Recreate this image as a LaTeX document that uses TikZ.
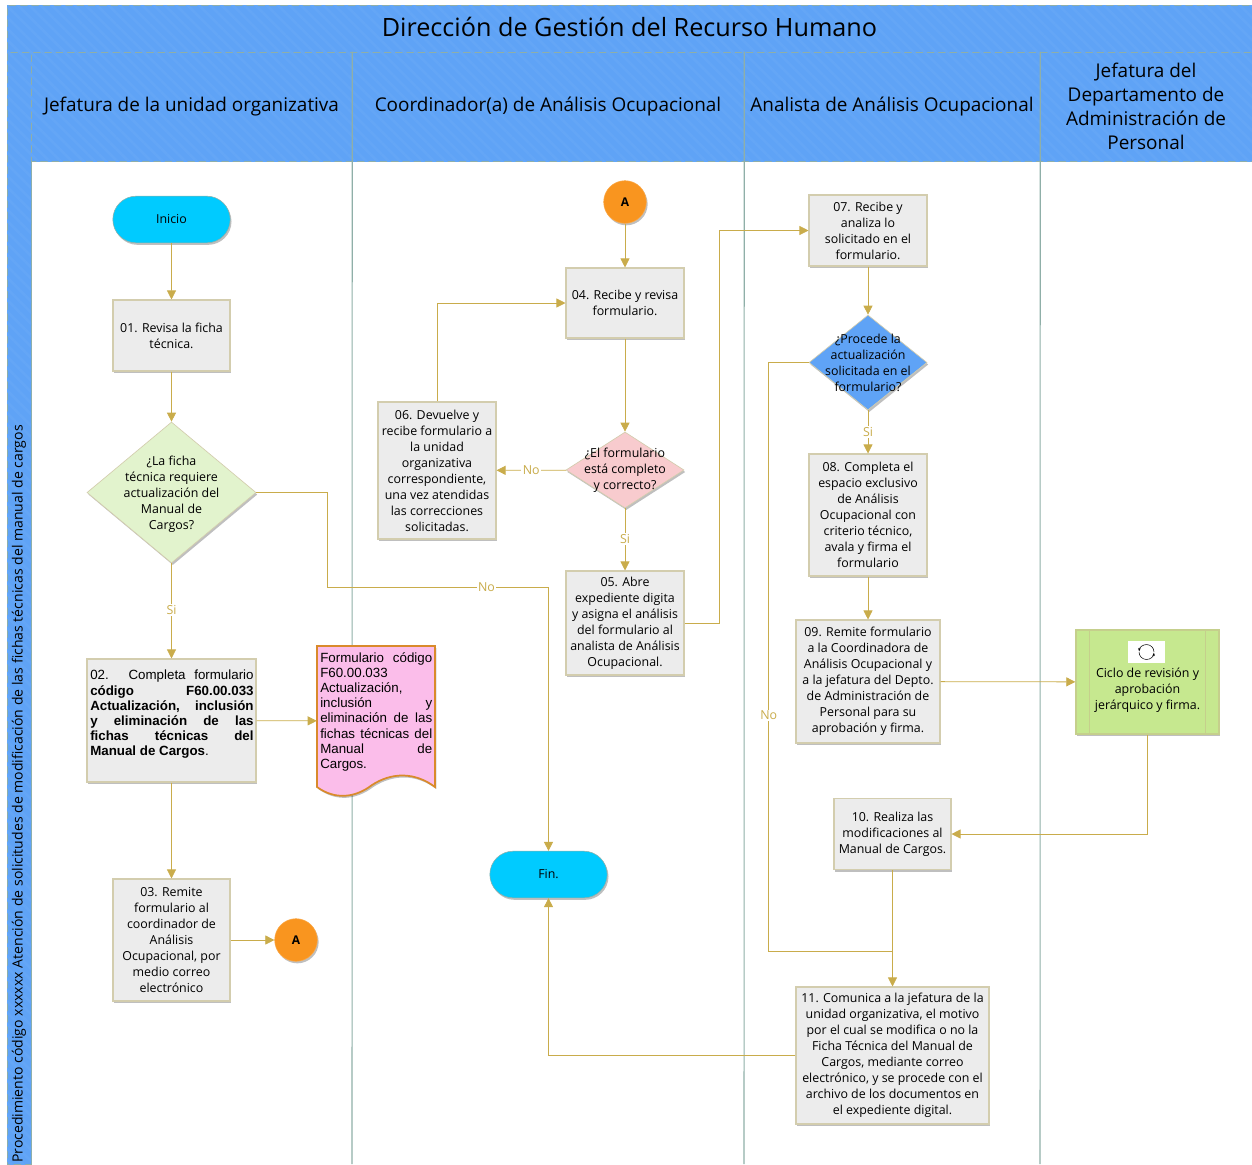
\documentclass[tikz,border=0pt]{standalone}
\usepackage{fontspec}
\setmainfont{Open Sans}
\newfontfamily\arialfont{Liberation Sans}
\usetikzlibrary{arrows.meta, shapes.geometric, shapes.misc, shadows, patterns.meta}

\definecolor{lanefill}{HTML}{5FA3F6}
\definecolor{laneline}{HTML}{8FAFA8}
\definecolor{flowline}{HTML}{C9AC4B}
\definecolor{boxfill}{HTML}{ECECEC}
\definecolor{boxline}{HTML}{D3CDAE}
\definecolor{startfill}{HTML}{00CBFF}
\definecolor{connfill}{HTML}{F9951F}
\definecolor{askgreen}{HTML}{E2F3CD}
\definecolor{askpink}{HTML}{F8CBCE}
\definecolor{docfill}{HTML}{FBBDEA}
\definecolor{docline}{HTML}{D98A2B}
\definecolor{ciclofill}{HTML}{C6E88F}
\definecolor{cicloline}{HTML}{C5CF8C}

\newcommand{\jline}[2]{\leavevmode\hbox to #1{\spaceskip=0pt\xspaceskip=0pt #2}\par}

\tikzset{
	hatch/.style = {postaction = {pattern = {Lines[angle = -45, distance = 6pt, line width = 2pt]}, pattern color = #1!97!white}},
	lanehead/.style = {draw = laneline, fill = lanefill, hatch = lanefill, inner sep = 0, align = center, font = \fontsize{14.2}{18}\selectfont},
	flowshadow/.style = {drop shadow = {shadow xshift = 1pt, shadow yshift = -1.5pt, fill = black, opacity = 0.25}},
	taskbox/.style = {draw = boxline, line width = 0.8pt, fill = boxfill, flowshadow, inner sep = 0, align = center, font = \fontsize{9.3}{12}\selectfont},
	startend/.style = {rounded rectangle, draw = laneline, fill = startfill, flowshadow, minimum width = 88pt, minimum height = 35pt, inner sep = 0, font = \fontsize{9.3}{12}\selectfont},
	decision/.style = {diamond, draw = boxline, line width = 0.5pt, flowshadow, inner sep = 0},
	decisiontext/.style = {align = center, inner sep = 0, font = \fontsize{9.3}{12}\selectfont},
	connector/.style = {circle, draw = connfill!80!white, fill = connfill, flowshadow, minimum size = 32pt, inner sep = 0, font = \fontsize{9}{12}\selectfont\bfseries},
	flow/.style = {draw = flowline, line width = 0.6pt, -{Triangle[width = 6.8pt, length = 6.8pt]}},
	flowplain/.style = {draw = flowline, line width = 0.6pt},
	answer/.style = {fill = white, inner sep = 1pt, text = flowline, font = \fontsize{9.3}{12}\selectfont}
}

\begin{document}
\begin{tikzpicture}[x = 0.75pt, y = -0.75pt]
	\useasboundingbox (0,0) rectangle (1252,1164);

	% carriles
	\begin{scope}
		\node [lanehead, minimum width = 933.75pt, minimum height = 35.25pt, text depth = 2.5pt, font = \fontsize{18.9}{22}\selectfont] (title) at (629.5,28.5) {Dirección de Gestión del Recurso Humano};
		\node [lanehead, minimum width = 18pt, minimum height = 834pt] (strip) at (19,608) {};
		\node [lanehead, minimum width = 240.75pt, minimum height = 81.75pt] (lane1) at (191.5,106.5) {Jefatura de la unidad organizativa};
		\node [lanehead, minimum width = 294pt, minimum height = 81.75pt] (lane2) at (548,106.5) {Coordinador(a) de Análisis Ocupacional};
		\node [lanehead, minimum width = 222pt, minimum height = 81.75pt] (lane3) at (892,106.5) {Analista de Análisis Ocupacional};
		\node [lanehead, minimum width = 159pt, minimum height = 81.75pt] (lane4) at (1146,106.5) {Jefatura del\\Departamento de\\Administración de\\Personal};
		\node [rotate = 90, anchor = east, inner sep = 0, font = \fontsize{10.55}{12}\selectfont] (striptext) at (19,425) {Procedimiento código xxxxxx Atención de solicitudes de modificación de las fichas técnicas del manual de cargos};

		\coordinate (end1) at (352,1164);
		\coordinate (end2) at (744,1164);
		\coordinate (end3) at (1040,1164);
		\draw [laneline, line width = 0.8pt] (lane1.north east) -- (end1);
		\draw [laneline, line width = 0.8pt] (lane2.north east) -- (end2);
		\draw [laneline, line width = 0.8pt] (lane3.north east) -- (end3);
	\end{scope}

	% carril 1
	\node [startend] (inicio) at (171.5,219.5) {Inicio};
	\node [taskbox, minimum width = 87.75pt, minimum height = 53.25pt] (b01) at (171.5,335.5) {01. Revisa la ficha\\técnica.};
	\node [decision, fill = askgreen, minimum width = 126.75pt, minimum height = 105.75pt] (d1) at (171.5,492.5) {};
	\node [decisiontext] (d1text) at ([yshift = -1pt]d1) {¿La ficha\\técnica requiere\\actualización del\\Manual de\\Cargos?};
	\node [taskbox, minimum width = 126.75pt, minimum height = 92.25pt] (b02) at (171.5,720.5) {};
	\node [anchor = north west, inner sep = 0, text width = 122.5pt, font = \arialfont\fontsize{10}{11.4}\selectfont, align = left] (b02text) at (90,670) {\jline{122.5pt}{02. Completa formulario}\jline{122.5pt}{\bfseries código \hfill F60.00.033}\jline{122.5pt}{\bfseries Actualización, inclusión}\jline{122.5pt}{\bfseries y eliminación de las}\jline{122.5pt}{\bfseries fichas técnicas del}\jline{122.5pt}{\bfseries Manual de Cargos\mdseries.\hfill}};
	\node [taskbox, minimum width = 87.75pt, minimum height = 91.5pt] (b03) at (171.5,940) {03. Remite\\formulario al\\coordinador de\\Análisis\\Ocupacional, por\\medio correo\\electrónico};
	\node [connector] (a1) at (296,940) {A};

	% formulario
	\coordinate (docnw) at (317,646);
	\coordinate (docne) at (435,646);
	\coordinate (docsw) at (317,787);
	\coordinate (docse) at (435,787);
	\draw [draw = docline, line width = 1.3pt, fill = docfill, flowshadow] (docnw) -- (docne) -- (docse) .. controls (415,772) and (392,772) .. (372,785) .. controls (355,798) and (335,800) .. (docsw) -- cycle;
	\node [minimum width = 88.5pt, minimum height = 114pt, inner sep = 0] (doc) at (376,721) {};
	\node [anchor = north west, inner sep = 0, text width = 84pt, font = \arialfont\fontsize{10}{11.4}\selectfont, align = left] (doctext) at (320,652) {\jline{84pt}{Formulario \hfill código}\jline{84pt}{F60.00.033\hfill}\jline{84pt}{Actualización,\hfill}\jline{84pt}{inclusión \hfill y}\jline{84pt}{eliminación de las}\jline{84pt}{fichas técnicas del}\jline{84pt}{Manual \hfill de}\jline{84pt}{Cargos.\hfill}};

	% carril 2
	\node [connector] (a2) at (625,202) {A};
	\node [taskbox, minimum width = 88.5pt, minimum height = 52.5pt] (b04) at (625,303) {04. Recibe y revisa\\formulario.};
	\node [decision, fill = askpink, minimum width = 88.5pt, minimum height = 57pt] (d2) at (625,470) {};
	\node [decisiontext] (d2text) at (d2) {¿El formulario\\está completo\\y correcto?};
	\node [taskbox, minimum width = 88.5pt, minimum height = 102.75pt] (b06) at (437,470.5) {06. Devuelve y\\recibe formulario a\\la unidad\\organizativa\\correspondiente,\\una vez atendidas\\las correcciones\\solicitadas.};
	\node [taskbox, minimum width = 88.5pt, minimum height = 78pt] (b05) at (625,623) {05. Abre\\expediente digita\\y asigna el análisis\\del formulario al\\analista de Análisis\\Ocupacional.};
	\node [startend] (fin) at (548.5,874.5) {Fin.};

	% carril 3
	\node [taskbox, minimum width = 88.5pt, minimum height = 53.25pt] (b07) at (868,230.5) {07. Recibe y\\analiza lo\\solicitado en el\\formulario.};
	\node [decision, fill = lanefill, minimum width = 88.5pt, minimum height = 71.25pt] (d3) at (868,362.5) {};
	\node [decisiontext] (d3text) at (d3) {¿Procede la\\actualización\\solicitada en el\\formulario?};
	\node [taskbox, minimum width = 88.5pt, minimum height = 91.5pt] (b08) at (868,515) {08. Completa el\\espacio exclusivo\\de Análisis\\Ocupacional con\\criterio técnico,\\avala y firma el\\formulario};
	\node [taskbox, minimum width = 108pt, minimum height = 92.25pt] (b09) at (868,681.5) {09. Remite formulario\\a la Coordinadora de\\Análisis Ocupacional y\\a la jefatura del Depto.\\de Administración de\\Personal para su\\aprobación y firma.};
	\node [taskbox, minimum width = 87.75pt, minimum height = 53.25pt] (b10) at (892.5,834) {10. Realiza las\\modificaciones al\\Manual de Cargos.};
	\node [taskbox, minimum width = 144.75pt, minimum height = 102.75pt] (b11) at (892.5,1055.5) {11. Comunica a la jefatura de la\\unidad organizativa, el motivo\\por el cual se modifica o no la\\Ficha Técnica del Manual de\\Cargos, mediante correo\\electrónico, y se procede con el\\archivo de los documentos en\\el expediente digital.};
	\coordinate (merge) at (892.5,951);

	% carril 4
	\node [taskbox, draw = cicloline, line width = 1pt, fill = ciclofill, minimum width = 107.25pt, minimum height = 78pt] (ciclo) at (1147.5,682) {};
	\draw [draw = cicloline, line width = 1pt] ([xshift = 10.5pt]ciclo.north west) -- ([xshift = 10.5pt]ciclo.south west);
	\draw [draw = cicloline, line width = 1pt] ([xshift = -10.5pt]ciclo.north east) -- ([xshift = -10.5pt]ciclo.south east);
	\node [fill = white, minimum width = 27.75pt, minimum height = 16.5pt, inner sep = 0] (icono) at (1146.5,652) {};
	\draw [-{Stealth[length = 2.5pt]}] (1154,652) arc [start angle = 0, end angle = 175, radius = 5.6pt];
	\draw [-{Stealth[length = 2.5pt]}] (1139,652) arc [start angle = 180, end angle = 355, radius = 5.6pt];
	\node [decisiontext] (ciclotext) at (1147.5,690) {Ciclo de revisión y\\aprobación\\jerárquico y firma.};

	% conectores
	\coordinate (bend1) at (327,587);
	\begin{scope}
		\draw [flow] (inicio) -- (b01);
		\draw [flow] (b01) -- (d1);
		\draw [flow] (d1) -- node [answer, pos = 0.49] (si1) {Si} (b02);
		\draw [flow] (d1.east) -| (bend1) -| node [answer, pos = 0.36] (no1) {No} (fin.north);
		\draw [flow] (b02) -- (doc);
		\draw [flow] (b02) -- (b03);
		\draw [flow] (b03) -- (a1);
		\draw [flow] (a2) -- (b04);
		\draw [flow] (b04) -- (d2);
		\draw [flow] (d2) -- node [answer] (no2) {No} (b06);
		\draw [flow] (d2) -- node [answer, pos = 0.49] (si2) {Si} (b05);
		\draw [flow] (b06.north) |- (b04.west);
		\draw [flow] (b05.east) -- ++(35,0) |- (b07.west);
		\draw [flow] (b07) -- (d3);
		\draw [flow] (d3) -- node [answer] (si3) {Si} (b08);
		\draw [flow] (b08) -- (b09);
		\draw [flowplain] (d3.west) -- ++(-40,0) |- node [answer, pos = 0.3] (no3) {No} (merge);
		\draw [flow] (b09) -- (ciclo);
		\draw [flow] (ciclo.south) |- (b10.east);
		\draw [flow] (b10) -- (b11);
		\draw [flow] (b11.west) -| (fin.south);
	\end{scope}
\end{tikzpicture}
\end{document}
